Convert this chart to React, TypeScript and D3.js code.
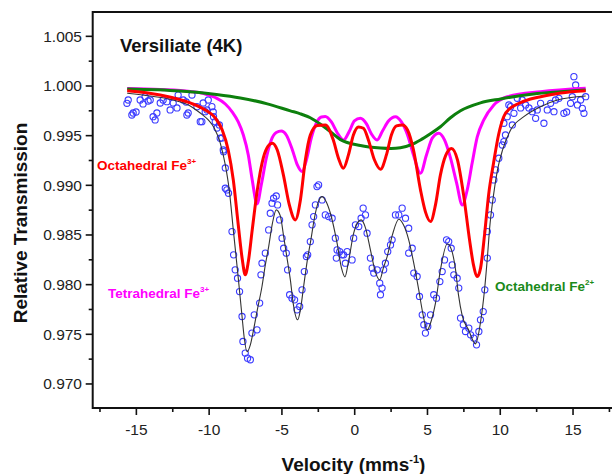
import React, { useRef, useEffect } from "react";
import * as d3 from "d3";

// velocity (mm/s), relative transmission
const measured: [number, number][] = [
  [-15.65, 0.99826], [-15.56, 0.99859], [-15.31, 0.99708], [-15.22, 0.99728], [-15.02, 0.99738],
  [-14.74, 0.99859], [-14.54, 0.99819], [-14.4, 0.99892], [-14.19, 0.99849], [-14.05, 0.99859],
  [-13.85, 0.99691], [-13.71, 0.99658], [-13.59, 0.99728], [-13.36, 0.99829], [-13.16, 0.99859],
  [-12.9, 0.99842], [-12.68, 0.99759], [-12.47, 0.99829], [-12.21, 0.99779], [-12.13, 0.99909],
  [-11.78, 0.99859], [-11.58, 0.99839], [-11.53, 0.99708], [-11.44, 0.99728], [-11.18, 0.99909],
  [-10.84, 0.99792], [-10.61, 0.99641], [-10.5, 0.99641], [-10.41, 0.99829], [-10.27, 0.99741],
  [-10.15, 0.99759], [-10.06, 0.99859], [-9.81, 0.99792], [-9.72, 0.99738], [-9.7, 0.99691],
  [-9.58, 0.99641], [-9.46, 0.99577], [-9.3, 0.99608], [-9.24, 0.99474], [-9.12, 0.99477],
  [-9.03, 0.99356], [-9.01, 0.99339], [-8.89, 0.99175], [-8.89, 0.98971], [-8.78, 0.98954],
  [-8.67, 0.9892], [-8.43, 0.98534], [-8.32, 0.983], [-8.21, 0.98149], [-8.05, 0.98065],
  [-7.91, 0.9793], [-7.74, 0.97679], [-7.68, 0.97428], [-7.52, 0.97311], [-7.36, 0.9726],
  [-7.17, 0.97244], [-7.06, 0.97512], [-6.9, 0.97696], [-6.71, 0.97545], [-6.53, 0.97814],
  [-6.44, 0.98099], [-6.37, 0.98216], [-6.14, 0.98317], [-5.91, 0.98551], [-5.8, 0.98719],
  [-5.68, 0.9882], [-5.57, 0.9887], [-5.39, 0.98893], [-5.3, 0.98803], [-5.16, 0.98652],
  [-4.99, 0.98468], [-4.88, 0.98367], [-4.7, 0.98317], [-4.61, 0.98149], [-4.47, 0.97898],
  [-4.31, 0.97864], [-4.13, 0.97847], [-3.96, 0.97746], [-3.78, 0.9778], [-3.62, 0.97948],
  [-3.46, 0.98132], [-3.32, 0.98283], [-3.23, 0.983], [-3.05, 0.98434], [-2.93, 0.98602],
  [-2.82, 0.98685], [-2.7, 0.98803], [-2.59, 0.98987], [-2.48, 0.99004], [-2.24, 0.98853],
  [-2.02, 0.98702], [-1.79, 0.98685], [-1.55, 0.98669], [-1.33, 0.98468], [-1.26, 0.98267],
  [-1.21, 0.9835], [-1.03, 0.98333], [-0.87, 0.983], [-0.76, 0.983], [-0.64, 0.98216],
  [-0.52, 0.98333], [-0.18, 0.98249], [-0.07, 0.98468], [0.05, 0.98602], [0.28, 0.98585],
  [0.44, 0.98669], [0.58, 0.9877], [0.74, 0.98702], [0.85, 0.98518], [1.08, 0.98267],
  [1.2, 0.98166], [1.31, 0.98116], [1.54, 0.98149], [1.72, 0.98015], [1.77, 0.97898],
  [1.88, 0.97965], [1.99, 0.98149], [2.11, 0.98216], [2.27, 0.98333], [2.46, 0.984],
  [2.57, 0.98451], [2.8, 0.98702], [3.03, 0.98702], [3.26, 0.9877], [3.49, 0.98669],
  [3.71, 0.98568], [3.71, 0.98317], [3.95, 0.98367], [4.06, 0.98116], [4.29, 0.98082],
  [4.45, 0.97881], [4.64, 0.97696], [4.75, 0.97596], [4.86, 0.97512], [5.02, 0.97579],
  [5.21, 0.97696], [5.43, 0.97898], [5.62, 0.97864], [5.85, 0.98031], [6.01, 0.98132],
  [6.17, 0.98249], [6.31, 0.98451], [6.46, 0.98434], [6.63, 0.98367], [6.7, 0.98199],
  [6.81, 0.98099], [7.04, 0.98065], [7.15, 0.97965], [7.27, 0.97663], [7.46, 0.97596],
  [7.61, 0.97528], [7.84, 0.97562], [7.96, 0.97495], [8.18, 0.97462], [8.37, 0.97394],
  [8.53, 0.97528], [8.64, 0.97646], [8.83, 0.97729], [8.94, 0.97948], [9.11, 0.98267],
  [9.11, 0.98534], [9.33, 0.98702], [9.45, 0.98853], [9.56, 0.99054], [9.68, 0.99155],
  [9.9, 0.99273], [10.14, 0.99406], [10.25, 0.9944], [10.25, 0.99625], [10.36, 0.99507],
  [10.48, 0.99691], [10.59, 0.99809], [10.71, 0.99792], [10.83, 0.99608], [10.94, 0.99725],
  [11.17, 0.99876], [11.4, 0.99779], [11.51, 0.99859], [11.74, 0.99809], [11.97, 0.99779],
  [12.2, 0.99741], [12.43, 0.99675], [12.54, 0.99759], [12.77, 0.99826], [13.0, 0.99625],
  [13.23, 0.99759], [13.46, 0.99826], [13.69, 0.99741], [13.8, 0.99859], [14.03, 0.99876],
  [14.37, 0.99725], [14.56, 0.99738], [14.83, 0.99826], [14.95, 0.99892], [15.06, 1.00094],
  [15.18, 1.0001], [15.3, 0.99809], [15.52, 0.99859], [15.64, 0.99775], [15.75, 0.99725],
  [15.87, 0.99892],
];

const fitTotal: [number, number][] = [
  [-15.63, 0.99927], [-14.05, 0.99899], [-12.47, 0.99859], [-11.3, 0.99799], [-10.61, 0.99728],
  [-10.06, 0.99658], [-9.65, 0.99577], [-9.24, 0.99427], [-8.89, 0.99205], [-8.62, 0.98954],
  [-8.34, 0.98551], [-8.0, 0.98068], [-7.74, 0.97679], [-7.59, 0.97465], [-7.4, 0.97324],
  [-7.17, 0.97394], [-6.95, 0.97545], [-6.69, 0.97746], [-6.37, 0.97981], [-6.14, 0.98199],
  [-5.91, 0.98383], [-5.66, 0.98612], [-5.39, 0.98753], [-5.11, 0.98692], [-4.88, 0.98484],
  [-4.63, 0.9825], [-4.42, 0.98048], [-4.22, 0.97807], [-3.92, 0.97646], [-3.73, 0.97746],
  [-3.51, 0.97981], [-3.25, 0.9825], [-3.05, 0.98417], [-2.7, 0.98719], [-2.5, 0.98833],
  [-2.24, 0.98886], [-1.95, 0.98833], [-1.67, 0.98719], [-1.21, 0.98417], [-0.91, 0.98169],
  [-0.67, 0.98078], [-0.43, 0.98229], [-0.07, 0.98518], [0.19, 0.98622], [0.44, 0.98652],
  [0.74, 0.98572], [1.08, 0.9835], [1.42, 0.98129], [1.72, 0.98048], [1.97, 0.98169],
  [2.23, 0.98283], [2.59, 0.98501], [3.03, 0.98659], [3.35, 0.98602], [3.71, 0.98451],
  [4.04, 0.98229], [4.4, 0.97947], [4.66, 0.97726], [4.98, 0.97545], [5.28, 0.97646],
  [5.55, 0.97814], [5.89, 0.98149], [6.36, 0.98411], [6.65, 0.9835], [6.93, 0.98149],
  [7.13, 0.97897], [7.39, 0.97686], [7.82, 0.97545], [8.3, 0.97404], [8.65, 0.97626],
  [8.92, 0.97948], [9.13, 0.983], [9.26, 0.98551], [9.54, 0.98904], [9.81, 0.99155],
  [10.16, 0.99356], [10.71, 0.99557], [11.62, 0.99691], [12.77, 0.99792], [13.92, 0.99859],
  [15.87, 0.99899],
];

const octFe3: [number, number][] = [
  [-15.63, 0.99953], [-13.36, 0.9991], [-11.3, 0.99829], [-10.27, 0.99759], [-9.58, 0.99678],
  [-9.1, 0.99557], [-8.69, 0.99356], [-8.34, 0.99054], [-8.0, 0.98602], [-7.72, 0.9825],
  [-7.52, 0.98099], [-7.31, 0.9823], [-7.04, 0.98551], [-6.69, 0.98954], [-6.28, 0.99276],
  [-5.94, 0.99396], [-5.66, 0.99424], [-5.32, 0.99356], [-4.9, 0.99105], [-4.49, 0.98803],
  [-4.08, 0.98652], [-3.73, 0.98853], [-3.39, 0.99255], [-3.05, 0.99507], [-2.57, 0.99603],
  [-2.02, 0.99608], [-1.47, 0.99457], [-1.12, 0.99276], [-0.78, 0.99172], [-0.43, 0.99306],
  [-0.09, 0.99507], [0.26, 0.99588], [0.6, 0.99574], [0.94, 0.99457], [1.36, 0.99255],
  [1.77, 0.99162], [2.18, 0.99306], [2.52, 0.99507], [2.87, 0.99598], [3.28, 0.99608],
  [3.63, 0.99557], [4.04, 0.99356], [4.52, 0.98954], [4.86, 0.98733], [5.21, 0.98635],
  [5.55, 0.98803], [5.89, 0.99105], [6.24, 0.99296], [6.65, 0.99371], [7.06, 0.99255],
  [7.48, 0.98904], [7.89, 0.98451], [8.16, 0.98199], [8.42, 0.98082], [8.65, 0.98169],
  [8.92, 0.98501], [9.2, 0.98904], [9.54, 0.99225], [9.88, 0.99507], [10.23, 0.99688],
  [10.71, 0.99779], [11.19, 0.99819], [12.08, 0.99869], [12.77, 0.99892], [14.15, 0.9993],
  [15.87, 0.99953],
];

const tetFe3: [number, number][] = [
  [-15.63, 0.99975], [-13.36, 0.99965], [-11.3, 0.99945], [-10.27, 0.9992], [-9.58, 0.99884],
  [-8.89, 0.99819], [-8.41, 0.99738], [-8.0, 0.99638], [-7.65, 0.99507], [-7.31, 0.99306],
  [-7.04, 0.99054], [-6.71, 0.98813], [-6.42, 0.99004], [-6.07, 0.99276], [-5.73, 0.99457],
  [-5.39, 0.99532], [-5.04, 0.99547], [-4.7, 0.99507], [-4.28, 0.99356], [-3.94, 0.99205],
  [-3.62, 0.99138], [-3.32, 0.99255], [-2.98, 0.99477], [-2.63, 0.99628], [-2.29, 0.99688],
  [-2.02, 0.99693], [-1.6, 0.99638], [-1.19, 0.99527], [-0.76, 0.99457], [-0.36, 0.99547],
  [-0.02, 0.99648], [0.39, 0.99675], [0.81, 0.99618], [1.15, 0.99517], [1.54, 0.99457],
  [1.91, 0.99547], [2.32, 0.99648], [2.8, 0.99691], [3.21, 0.99638], [3.63, 0.99507],
  [4.04, 0.99306], [4.52, 0.99122], [4.93, 0.99306], [5.34, 0.99477], [5.78, 0.99524],
  [6.17, 0.99457], [6.58, 0.99276], [7.0, 0.99024], [7.39, 0.98803], [7.73, 0.98954],
  [8.07, 0.99225], [8.42, 0.99487], [8.87, 0.99658], [9.56, 0.99809], [10.48, 0.99892],
  [12.77, 0.99943], [15.87, 0.99977],
];

const octFe2: [number, number][] = [
  [-15.63, 0.9997], [-12.0, 0.9995], [-9.5, 0.99915], [-7.86, 0.9988], [-6.0, 0.9982],
  [-4.42, 0.9975], [-3.73, 0.9972], [-3.05, 0.9968], [-2.3, 0.9961], [-1.67, 0.9954],
  [-0.98, 0.9946], [0.39, 0.994], [1.77, 0.99375], [2.5, 0.9937], [3.14, 0.99378],
  [3.9, 0.9941], [4.52, 0.99457], [5.2, 0.9952], [5.89, 0.9959], [6.58, 0.9968],
  [7.27, 0.9975], [8.64, 0.9983], [10.02, 0.9987], [12.29, 0.9992], [14.15, 0.99942],
  [15.87, 0.9996],
];

const yTicks = [0.97, 0.975, 0.98, 0.985, 0.99, 0.995, 1.0, 1.005];
const yMinorTicks = [0.9725, 0.9775, 0.9825, 0.9875, 0.9925, 0.9975, 1.0025];
const xTicks = [-15, -10, -5, 0, 5, 10, 15];
const xMinorTicks = [-17.5, -12.5, -7.5, -2.5, 2.5, 7.5, 12.5, 17.5];

const App = () => {
  const svgRef = useRef(null);

  useEffect(() => {
    const svg = d3.select(svgRef.current);
    svg.selectAll("*").remove();

    const xScale = d3.scaleLinear().domain([-18, 18]).range([92.7, 616.7]);
    const yScale = d3.scaleLinear().domain([0.96758, 1.00745]).range([408, 12]);
    const left = 92.7, top = 12, bottom = 408, right = 616.7;

    const font = "'Liberation Sans', Arial, sans-serif";

    // data circles
    svg
      .append("g")
      .selectAll("circle")
      .data(measured)
      .join("circle")
      .attr("cx", (d) => xScale(d[0]))
      .attr("cy", (d) => yScale(d[1]))
      .attr("r", 3.1)
      .attr("fill", "none")
      .attr("stroke", "#3a3aff")
      .attr("stroke-width", 1.1);

    const line = d3
      .line<[number, number]>()
      .x((d) => xScale(d[0]))
      .y((d) => yScale(d[1]))
      .curve(d3.curveMonotoneX);

    const drawCurve = (data, color, width) =>
      svg
        .append("path")
        .datum(data)
        .attr("d", line)
        .attr("fill", "none")
        .attr("stroke", color)
        .attr("stroke-width", width)
        .attr("stroke-linejoin", "round");

    drawCurve(fitTotal, "#333333", 1.1);
    drawCurve(tetFe3, "#ff00ff", 3);
    drawCurve(octFe2, "#0d800d", 3);
    drawCurve(octFe3, "#ff0000", 3);

    // frame
    svg
      .append("path")
      .attr("d", `M${right},${top}H${left}V${bottom}H${right}`)
      .attr("fill", "none")
      .attr("stroke", "#111")
      .attr("stroke-width", 2);

    // y ticks
    const yAxis = svg.append("g");
    yAxis
      .selectAll("line.major")
      .data(yTicks)
      .join("line")
      .attr("class", "major")
      .attr("x1", left - 7)
      .attr("x2", left)
      .attr("y1", (d) => yScale(d))
      .attr("y2", (d) => yScale(d))
      .attr("stroke", "#111")
      .attr("stroke-width", 1.6);
    yAxis
      .selectAll("line.minor")
      .data(yMinorTicks)
      .join("line")
      .attr("class", "minor")
      .attr("x1", left - 4)
      .attr("x2", left)
      .attr("y1", (d) => yScale(d))
      .attr("y2", (d) => yScale(d))
      .attr("stroke", "#111")
      .attr("stroke-width", 1.6);
    yAxis
      .selectAll("text")
      .data(yTicks)
      .join("text")
      .attr("x", 82)
      .attr("y", (d) => yScale(d) + 5.5)
      .attr("text-anchor", "end")
      .style("font-family", font)
      .style("font-size", "15.5px")
      .attr("fill", "#222")
      .text((d) => d3.format(".3f")(d));

    // x ticks
    const xAxis = svg.append("g");
    xAxis
      .selectAll("line.major")
      .data(xTicks)
      .join("line")
      .attr("class", "major")
      .attr("x1", (d) => xScale(d))
      .attr("x2", (d) => xScale(d))
      .attr("y1", bottom)
      .attr("y2", bottom + 7)
      .attr("stroke", "#111")
      .attr("stroke-width", 1.6);
    xAxis
      .selectAll("line.minor")
      .data(xMinorTicks)
      .join("line")
      .attr("class", "minor")
      .attr("x1", (d) => xScale(d))
      .attr("x2", (d) => xScale(d))
      .attr("y1", bottom)
      .attr("y2", bottom + 4)
      .attr("stroke", "#111")
      .attr("stroke-width", 1.6);
    xAxis
      .selectAll("text")
      .data(xTicks)
      .join("text")
      .attr("x", (d) => xScale(d))
      .attr("y", 435)
      .attr("text-anchor", "middle")
      .style("font-family", font)
      .style("font-size", "15.5px")
      .attr("fill", "#222")
      .text((d) => `${d}`);

    // axis titles
    svg
      .append("text")
      .attr("transform", "translate(26.5,223) rotate(-90)")
      .attr("text-anchor", "middle")
      .style("font-family", font)
      .style("font-size", "19px")
      .style("font-weight", "bold")
      .attr("fill", "#111")
      .text("Relative Transmission");

    const vel = svg
      .append("text")
      .attr("x", 353.5)
      .attr("y", 471)
      .attr("text-anchor", "middle")
      .style("font-family", font)
      .style("font-size", "19px")
      .style("font-weight", "bold")
      .attr("fill", "#111");
    vel.append("tspan").text("Velocity (mms");
    vel.append("tspan").attr("dy", -8).style("font-size", "11px").text("-1");
    vel.append("tspan").attr("dy", 8).text(")");

    // title
    svg
      .append("text")
      .attr("x", 120)
      .attr("y", 52)
      .style("font-family", font)
      .style("font-size", "18.5px")
      .style("font-weight", "bold")
      .attr("fill", "#111")
      .text("Versiliate (4K)");

    // component labels
    const label = (x, y, main, sup, color) => {
      const t = svg
        .append("text")
        .attr("x", x)
        .attr("y", y)
        .style("font-family", font)
        .style("font-size", "13.5px")
        .style("font-weight", "bold")
        .attr("fill", color);
      t.append("tspan").text(main);
      t.append("tspan").attr("dy", -6).style("font-size", "8px").text(sup);
    };
    label(97, 170, "Octahedral Fe", "3+", "#ff0000");
    label(108, 298, "Tetrahedral Fe", "3+", "#ff00ff");
    label(495, 291, "Octahedral Fe", "2+", "#1a8a1a");
  }, []);

  return (
    <svg
      ref={svgRef}
      width={612}
      height={474}
      style={{ position: "absolute", left: 0, top: 0, background: "#fff" }}
    />
  );
};

export default App;
